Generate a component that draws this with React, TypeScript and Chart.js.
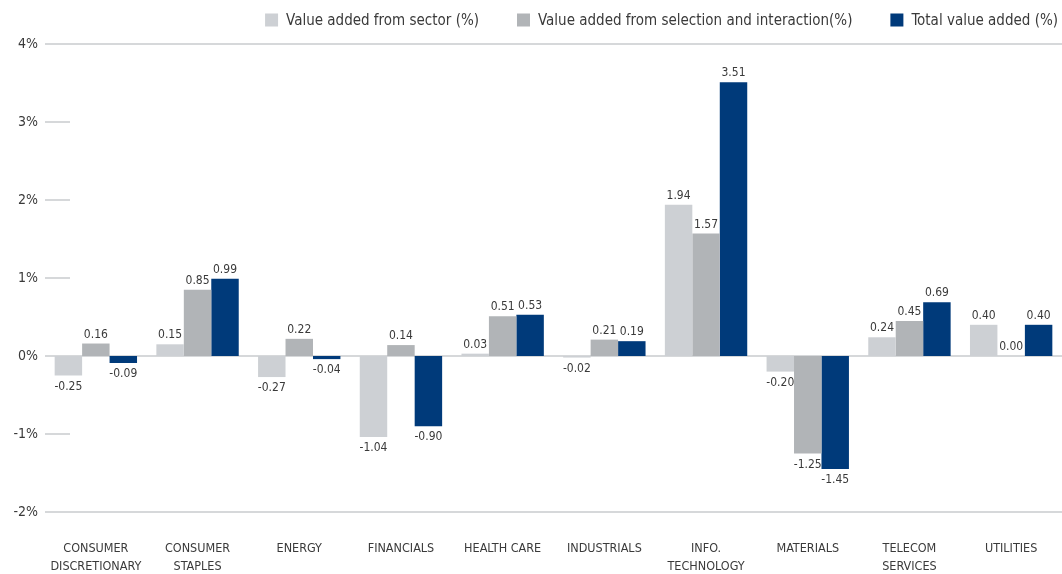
import React, { useEffect, useRef } from "react";
import { Chart, registerables } from "chart.js";

Chart.register(...registerables);

const categories: string[][] = [
  ["CONSUMER", "DISCRETIONARY"],
  ["CONSUMER", "STAPLES"],
  ["ENERGY"],
  ["FINANCIALS"],
  ["HEALTH CARE"],
  ["INDUSTRIALS"],
  ["INFO.", "TECHNOLOGY"],
  ["MATERIALS"],
  ["TELECOM", "SERVICES"],
  ["UTILITIES"],
];

const sectorValues = [-0.25, 0.15, -0.27, -1.04, 0.03, -0.02, 1.94, -0.2, 0.24, 0.4];
const selectionValues = [0.16, 0.85, 0.22, 0.14, 0.51, 0.21, 1.57, -1.25, 0.45, 0.0];
const totalValues = [-0.09, 0.99, -0.04, -0.9, 0.53, 0.19, 3.51, -1.45, 0.69, 0.4];

const seriesNames = [
  "Value added from sector (%)",
  "Value added from selection and interaction(%)",
  "Total value added (%)",
];
const seriesColors = ["#CDD0D4", "#B1B4B7", "#003A7A"];

const yMin = -2;
const yMax = 4;
const fullLines = [4, 0, -2];

const FONT = "'Liberation Sans Narrow', 'DejaVu Sans Condensed', 'Roboto', sans-serif";
const TEXT = "#3a3a3a";

const gridPlugin = {
  id: "customGrid",
  beforeDatasetsDraw(chart: any) {
    const { ctx, chartArea, scales } = chart;
    const y = scales.y;
    ctx.save();
    ctx.strokeStyle = "#C8CBCE";
    ctx.lineWidth = 1.5;
    for (let v = yMin; v <= yMax; v++) {
      const py = Math.round(y.getPixelForValue(v));
      const full = fullLines.includes(v);
      ctx.beginPath();
      ctx.moveTo(chartArea.left, py);
      ctx.lineTo(full ? chart.width : chartArea.left + 25, py);
      ctx.stroke();
    }
    ctx.restore();
  },
};

const labelPlugin = {
  id: "valueLabels",
  afterDatasetsDraw(chart: any) {
    const { ctx } = chart;
    ctx.save();
    ctx.font = `12px ${FONT}`;
    ctx.fillStyle = TEXT;
    ctx.textAlign = "center";
    chart.data.datasets.forEach((ds: any, di: number) => {
      const meta = chart.getDatasetMeta(di);
      meta.data.forEach((bar: any, i: number) => {
        const v = ds.data[i] as number;
        const txt = v.toFixed(2);
        if (v >= 0) {
          ctx.textBaseline = "bottom";
          ctx.fillText(txt, bar.x, bar.y - 3);
        } else {
          ctx.textBaseline = "top";
          ctx.fillText(txt, bar.x, bar.y + 5);
        }
      });
    });
    ctx.restore();
  },
};

const legendPlugin = {
  id: "customLegend",
  afterDraw(chart: any) {
    const { ctx } = chart;
    const datasets = chart.data.datasets;
    ctx.save();
    ctx.font = `15px ${FONT}`;
    ctx.textBaseline = "middle";
    ctx.textAlign = "left";
    const box = 13;
    const boxGap = 8;
    const itemGap = 38;
    const cy = 20;
    const widths = datasets.map((d: any) => ctx.measureText(d.label).width);
    let total = 0;
    widths.forEach((w: number, i: number) => {
      total += box + boxGap + w + (i < widths.length - 1 ? itemGap : 0);
    });
    let x = chart.width - 4 - total;
    datasets.forEach((d: any, i: number) => {
      ctx.fillStyle = d.backgroundColor;
      ctx.fillRect(x, cy - box / 2, box, box);
      ctx.fillStyle = TEXT;
      ctx.fillText(d.label, x + box + boxGap, cy + 1);
      x += box + boxGap + widths[i] + itemGap;
    });
    ctx.restore();
  },
};

export default function App() {
  const ref = useRef<HTMLCanvasElement | null>(null);

  useEffect(() => {
    if (!ref.current) return;
    const chart = new Chart(ref.current, {
      type: "bar",
      data: {
        labels: categories,
        datasets: [sectorValues, selectionValues, totalValues].map((d, i) => ({
          label: seriesNames[i],
          data: d,
          backgroundColor: seriesColors[i],
          borderWidth: 0,
          categoryPercentage: 0.81,
          barPercentage: 1.0,
        })),
      },
      options: {
        responsive: false,
        animation: false,
        layout: { padding: { left: 0, right: 0, top: 44, bottom: 0 } },
        plugins: {
          tooltip: { enabled: false },
          legend: { display: false },
        },
        scales: {
          x: {
            grid: { display: false, drawTicks: true, tickLength: 25 },
            border: { display: false },
            ticks: {
              color: TEXT,
              padding: 3,
              maxRotation: 0,
              autoSkip: false,
              font: { family: FONT, size: 12.5, lineHeight: 1.42 },
            },
            afterFit(scale: any) {
              scale.height = 62;
            },
          },
          y: {
            min: yMin,
            max: yMax,
            grid: { display: false, drawTicks: false, tickLength: 0 },
            border: { display: false },
            ticks: {
              stepSize: 1,
              color: TEXT,
              padding: 7,
              font: { family: FONT, size: 14 },
              callback: (v: any) => `${v}%`,
            },
            afterFit(scale: any) {
              scale.width = 45;
            },
          },
        },
      },
      plugins: [gridPlugin, labelPlugin, legendPlugin],
    });
    return () => chart.destroy();
  }, []);

  return (
    <div style={{ position: "fixed", left: 0, top: 0, width: 1062, height: 574, background: "#fff" }}>
      <canvas ref={ref} width={1062} height={574} />
    </div>
  );
}
